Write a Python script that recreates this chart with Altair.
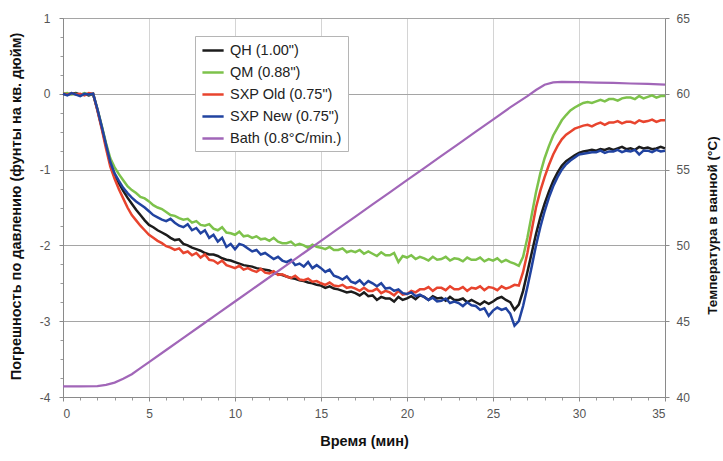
import altair as alt
import pandas as pd

# time grid (minutes), 0.25-min steps
T = [i * 0.25 for i in range(141)]

QH = [
    0.0, -0.01, 0.0, 0.01,
    -0.01, 0.0, -0.02, 0.0,
    -0.21, -0.44, -0.68, -0.92,
    -1.07, -1.18, -1.28, -1.37,
    -1.45, -1.53, -1.6, -1.67,
    -1.73, -1.76, -1.8, -1.83,
    -1.86, -1.9, -1.93, -1.92,
    -1.98, -2.0, -2.03, -2.05,
    -2.07, -2.1, -2.12, -2.12,
    -2.14, -2.17, -2.19, -2.2,
    -2.22, -2.24, -2.26, -2.27,
    -2.28, -2.3, -2.31, -2.32,
    -2.33, -2.36, -2.38, -2.39,
    -2.41, -2.43, -2.44, -2.46,
    -2.47, -2.49, -2.5, -2.52,
    -2.53, -2.56, -2.54, -2.57,
    -2.58, -2.6, -2.62, -2.61,
    -2.63, -2.66, -2.62, -2.67,
    -2.66, -2.72, -2.68, -2.7,
    -2.7, -2.74, -2.68, -2.72,
    -2.7, -2.67, -2.71, -2.66,
    -2.68, -2.72, -2.67, -2.7,
    -2.69, -2.73, -2.68, -2.72,
    -2.72, -2.7, -2.75, -2.72,
    -2.75, -2.78, -2.74, -2.77,
    -2.74, -2.7, -2.68, -2.72,
    -2.75, -2.85, -2.78, -2.6,
    -2.35, -2.1, -1.85, -1.63,
    -1.45, -1.29, -1.15, -1.04,
    -0.95, -0.89, -0.85, -0.81,
    -0.78, -0.76, -0.75, -0.74,
    -0.75, -0.73, -0.74, -0.72,
    -0.74, -0.72, -0.7, -0.73,
    -0.72, -0.74, -0.7, -0.72,
    -0.71, -0.73, -0.72, -0.7,
    -0.72,
]

QM = [
    0.0, 0.01, -0.01, 0.0,
    -0.02, 0.01, -0.01, 0.0,
    -0.2, -0.42, -0.65, -0.85,
    -0.97, -1.06, -1.14, -1.22,
    -1.27, -1.31, -1.36, -1.38,
    -1.42, -1.47, -1.5, -1.52,
    -1.56, -1.6, -1.61, -1.64,
    -1.66, -1.65, -1.7, -1.68,
    -1.73, -1.74, -1.72, -1.78,
    -1.8, -1.76, -1.83, -1.84,
    -1.86, -1.82, -1.88, -1.87,
    -1.9, -1.88, -1.92, -1.91,
    -1.94, -1.9, -1.95, -1.97,
    -1.97, -1.95, -2.0, -1.98,
    -2.0, -2.03, -1.99, -2.02,
    -2.03, -2.05, -2.02, -2.06,
    -2.06, -2.04, -2.09, -2.07,
    -2.09, -2.06, -2.11, -2.08,
    -2.11, -2.14, -2.09, -2.13,
    -2.13, -2.1, -2.22, -2.14,
    -2.16, -2.13, -2.18, -2.15,
    -2.17, -2.2, -2.15, -2.19,
    -2.18, -2.15, -2.2, -2.17,
    -2.18, -2.21, -2.16, -2.19,
    -2.19, -2.16, -2.21, -2.18,
    -2.2, -2.17, -2.22, -2.19,
    -2.22, -2.24, -2.27, -2.15,
    -1.9, -1.6, -1.3, -1.05,
    -0.85, -0.69, -0.55, -0.45,
    -0.35, -0.28, -0.22, -0.18,
    -0.15, -0.12, -0.11, -0.12,
    -0.1, -0.08, -0.1, -0.07,
    -0.07, -0.09, -0.06, -0.05,
    -0.05, -0.07, -0.03, -0.06,
    -0.04, -0.02, -0.05, -0.03,
    -0.03,
]

SXP_OLD = [
    0.0, -0.01, 0.01, -0.01,
    0.0, -0.02, 0.01, 0.0,
    -0.22, -0.46, -0.72, -0.96,
    -1.12, -1.26, -1.38, -1.5,
    -1.6, -1.67, -1.74, -1.8,
    -1.86, -1.9, -1.94, -1.97,
    -2.01, -2.03, -2.06, -2.04,
    -2.1, -2.08, -2.13, -2.1,
    -2.16, -2.12, -2.19, -2.2,
    -2.24, -2.2, -2.26, -2.28,
    -2.3, -2.27, -2.32, -2.3,
    -2.33, -2.35, -2.31, -2.36,
    -2.37, -2.34, -2.39, -2.38,
    -2.41, -2.43, -2.4, -2.45,
    -2.46, -2.44, -2.48, -2.47,
    -2.5, -2.52, -2.49, -2.53,
    -2.54, -2.52, -2.56, -2.55,
    -2.57, -2.6, -2.56, -2.6,
    -2.6, -2.57, -2.63, -2.6,
    -2.62, -2.66, -2.6, -2.65,
    -2.64, -2.6, -2.62, -2.58,
    -2.58, -2.55, -2.6, -2.56,
    -2.56, -2.59, -2.54, -2.58,
    -2.58, -2.55, -2.6, -2.56,
    -2.57, -2.54, -2.59, -2.55,
    -2.56, -2.59, -2.54, -2.57,
    -2.55, -2.52, -2.53, -2.35,
    -2.1, -1.8, -1.5, -1.28,
    -1.1, -0.94, -0.8, -0.69,
    -0.6, -0.54, -0.5, -0.46,
    -0.44, -0.42, -0.41, -0.43,
    -0.4, -0.38, -0.41, -0.38,
    -0.38, -0.36, -0.39, -0.37,
    -0.37, -0.39, -0.35, -0.37,
    -0.36, -0.34, -0.37, -0.35,
    -0.35,
]

SXP_NEW = [
    0.0, -0.02, 0.01, -0.01,
    -0.03, 0.0, -0.01, 0.0,
    -0.2, -0.43, -0.67, -0.9,
    -1.05, -1.15, -1.24, -1.31,
    -1.37, -1.42, -1.46, -1.5,
    -1.55, -1.6, -1.63, -1.66,
    -1.68, -1.65, -1.7, -1.74,
    -1.76, -1.72, -1.8, -1.77,
    -1.84, -1.8, -1.9, -1.86,
    -1.95, -1.9, -2.02, -1.98,
    -2.05, -1.98, -2.0, -2.04,
    -2.08, -2.06, -2.12, -2.1,
    -2.14, -2.18, -2.15, -2.2,
    -2.22, -2.19, -2.26, -2.24,
    -2.28, -2.22, -2.3, -2.26,
    -2.3, -2.35, -2.32, -2.4,
    -2.42, -2.45, -2.41, -2.48,
    -2.5, -2.46, -2.52, -2.47,
    -2.5, -2.54, -2.5, -2.57,
    -2.56, -2.6, -2.58, -2.63,
    -2.64, -2.62, -2.67, -2.65,
    -2.68, -2.72, -2.69, -2.74,
    -2.73, -2.7, -2.76, -2.74,
    -2.76, -2.8, -2.75, -2.79,
    -2.8, -2.85, -2.83, -2.93,
    -2.86, -2.82, -2.85, -2.83,
    -2.9, -3.06, -3.0, -2.8,
    -2.55, -2.28, -2.0, -1.76,
    -1.55, -1.37, -1.22, -1.1,
    -1.0, -0.93, -0.88, -0.84,
    -0.8, -0.79, -0.78, -0.77,
    -0.77, -0.75, -0.78, -0.76,
    -0.76, -0.74, -0.77, -0.75,
    -0.76, -0.74, -0.8, -0.75,
    -0.75, -0.77, -0.74, -0.76,
    -0.75,
]

BATH_T = [0, 1, 2, 2.5, 3, 3.5, 4, 4.5, 5, 6, 7, 8, 9, 10, 11, 12, 13, 14, 15,
          16, 17, 18, 19, 20, 21, 22, 23, 24, 25, 26, 27, 27.5, 28, 28.5, 29,
          30, 31, 32, 33, 34, 35]
BATH = [40.7, 40.7, 40.72, 40.8, 40.95, 41.2, 41.5, 41.9, 42.3, 43.1, 43.9,
        44.7, 45.5, 46.3, 47.1, 47.9, 48.7, 49.5, 50.3, 51.1, 51.9, 52.7,
        53.5, 54.3, 55.1, 55.9, 56.7, 57.5, 58.3, 59.1, 59.85, 60.25, 60.6,
        60.75, 60.78, 60.77, 60.74, 60.72, 60.68, 60.65, 60.6]

NAMES = ['QH (1.00")', 'QM (0.88")', 'SXP Old (0.75")', 'SXP New (0.75")',
         'Bath (0.8°C/min.)']
COLORS = ['#1c1c1c', '#7dc24b', '#e8442e', '#2143a0', '#a166b8']

X_TICKS = [0, 5, 10, 15, 20, 25, 30, 35]
X_MINOR = list(range(36))
Y_TICKS = [-4, -3, -2, -1, 0, 1]
Y_MINOR = [-4 + 0.25 * i for i in range(21)]
T_TICKS = [40, 45, 50, 55, 60, 65]

FONT = "Liberation Sans"

rows = []
for name, vals in zip(NAMES[:4], [QH, QM, SXP_OLD, SXP_NEW]):
    assert len(vals) == len(T), name
    for t, v in zip(T, vals):
        rows.append({"t": t, "v": v, "s": name})
press = pd.DataFrame(rows)
bath = pd.DataFrame({"t": BATH_T, "temp": BATH, "s": NAMES[4]})

legend = alt.Legend(
    orient="none", legendX=132, legendY=18, title=None,
    fillColor="white", strokeColor="#b5b5b5", padding=6,
    symbolType="M-1,0H2", symbolSize=200, symbolStrokeWidth=2.5,
    labelFont=FONT, labelFontSize=14.5, labelColor="#222",
    rowPadding=7, labelOffset=12,
)
color = alt.Color("s:N", scale=alt.Scale(domain=NAMES, range=COLORS), legend=legend)

XSCALE = alt.Scale(domain=[0, 35], nice=False)

x_main = alt.X(
    "t:Q", scale=XSCALE,
    axis=alt.Axis(
        orient="bottom", values=X_TICKS, grid=True, gridColor="#d4d4d4",
        gridWidth=1, domainColor="#8a8a8a", tickColor="#8a8a8a", tickSize=4,
        labelFont=FONT, labelFontSize=12, labelColor="#555", labelPadding=7,
        title="Время (мин)", titleFont=FONT, titleFontSize=14.5,
        titleFontWeight="bold", titleColor="#111", titlePadding=15,
    ),
)

press_layer = alt.Chart(press).mark_line(strokeWidth=2.5).encode(
    x=x_main,
    y=alt.Y(
        "v:Q", scale=alt.Scale(domain=[-4, 1], nice=False),
        axis=alt.Axis(
            orient="left", values=Y_TICKS, labelExpr="'' + datum.value",
            grid=True, gridColor="#a5a5a5", gridWidth=1,
            domainColor="#8a8a8a", tickColor="#8a8a8a", tickSize=4,
            labelFont=FONT, labelFontSize=12, labelColor="#555",
            labelPadding=9,
            title="Погрешность по давлению (фунты на кв. дюйм)",
            titleFont=FONT, titleFontSize=14.5, titleFontWeight="bold",
            titleColor="#111", titleX=-47, titleY=188, titleAngle=270,
            titleAlign="center", titleBaseline="middle",
        ),
    ),
    color=color,
    order=alt.Order("t:Q"),
)

bath_layer = alt.Chart(bath).mark_line(strokeWidth=2.2).encode(
    x=alt.X("t:Q", scale=XSCALE, axis=None),
    y=alt.Y(
        "temp:Q", scale=alt.Scale(domain=[40, 65], nice=False),
        axis=alt.Axis(
            orient="right", values=T_TICKS, grid=False,
            domainColor="#8a8a8a", tickColor="#8a8a8a", tickSize=4,
            labelFont=FONT, labelFontSize=12, labelColor="#555",
            labelPadding=7,
            title="Температура в ванной (°C)", titleFont=FONT,
            titleFontSize=13.5, titleFontWeight="bold", titleColor="#111",
            titleX=47, titleY=207, titleAngle=270, titleAlign="center",
            titleBaseline="middle",
        ),
    ),
    color=color,
)

minor_layer = alt.Chart(press).mark_point(opacity=0).encode(
    x=alt.X(
        "t:Q", scale=XSCALE, title=None,
        axis=alt.Axis(orient="bottom", values=X_MINOR, labels=False,
                      grid=False, domain=False, tickColor="#9a9a9a",
                      tickSize=3),
    ),
    y=alt.Y(
        "v:Q", scale=alt.Scale(domain=[-4, 1], nice=False), title=None,
        axis=alt.Axis(orient="left", values=Y_MINOR, labels=False, grid=False,
                      domain=False, tickColor="#9a9a9a", tickSize=3),
    ),
)

chart = (
    alt.layer(minor_layer, press_layer, bath_layer)
    .resolve_scale(y="independent")
    .resolve_axis(x="independent", y="independent")
    .properties(
        width=602, height=379,
        autosize=alt.AutoSizeParams(type="none"),
        padding={"left": 63, "top": 18, "right": 58, "bottom": 64},
        background="white",
    )
    .configure_view(stroke=None)
)

chart.save("out.html", embed_options={"renderer": "svg", "actions": False})
